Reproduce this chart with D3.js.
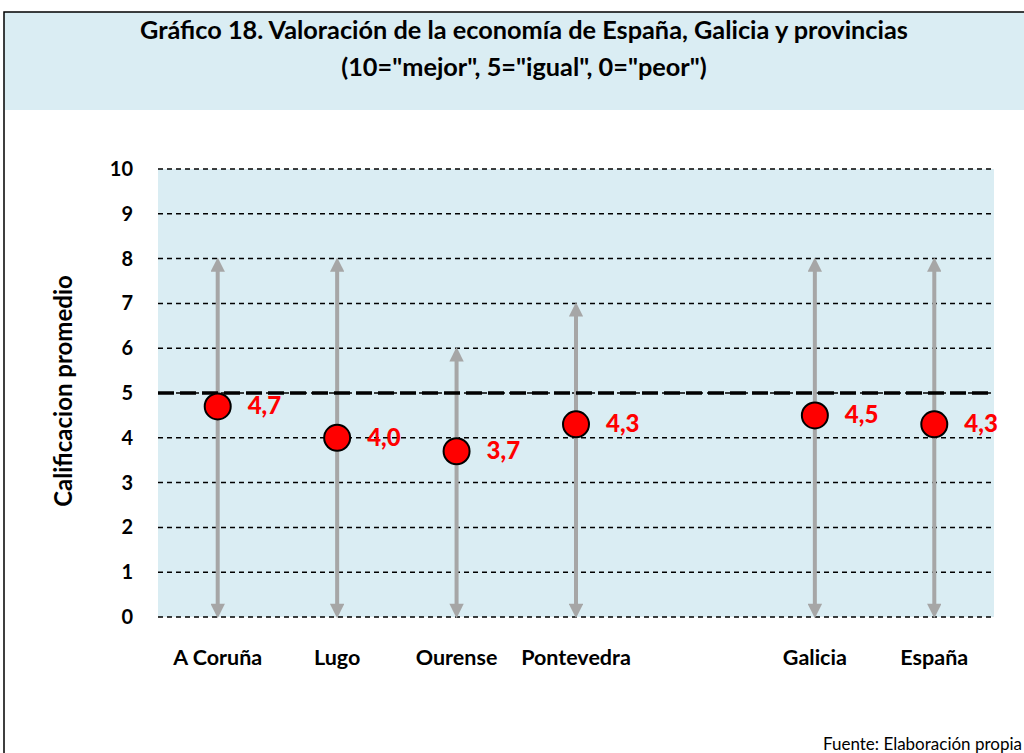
<!DOCTYPE html>
<html>
<head>
<meta charset="utf-8">
<script src="https://cdn.jsdelivr.net/npm/d3@7"></script>
<style>
  body { margin: 0; background: #fff; }
  text { font-family: Lato, "Open Sans", sans-serif; }
</style>
</head>
<body>
<div id="chart"></div>
<script>
// data
const categories = ["A Coruña", "Lugo", "Ourense", "Pontevedra", "", "Galicia", "España"];
const values = [4.7, 4.0, 3.7, 4.3, null, 4.5, 4.3];
const maxValues = [8, 8, 6, 7, null, 8, 8];
const yTicks = [0, 1, 2, 3, 4, 5, 6, 7, 8, 9, 10];
const refValue = 5;

const W = 1024, H = 753;
const margin = { top: 169, right: 30, bottom: 136, left: 158 },
    width = W - margin.left - margin.right,
    height = H - margin.top - margin.bottom;

const svg = d3.select("#chart").append("svg")
    .attr("width", W).attr("height", H);

// title band + frame
svg.append("rect").attr("x", 4).attr("y", 12).attr("width", W - 4).attr("height", 98)
    .attr("fill", "#daedf3");
svg.append("path").attr("d", `M4,${H} V12 H${W}`).attr("fill", "none")
    .attr("stroke", "#000").attr("stroke-width", 1.5);

svg.append("text").attr("x", 524).attr("y", 39)
    .attr("text-anchor", "middle").attr("font-weight", "bold").attr("font-size", 25.3)
    .text("Gráfico 18. Valoración de la economía de España, Galicia y provincias");
svg.append("text").attr("x", 524).attr("y", 76)
    .attr("text-anchor", "middle").attr("font-weight", "bold").attr("font-size", 25.3)
    .text('(10="mejor", 5="igual", 0="peor")');

const g = svg.append("g").attr("transform", `translate(${margin.left},${margin.top})`);

const x = d3.scaleBand().domain(d3.range(categories.length)).range([0, width]);
const y = d3.scaleLinear().domain([0, 10]).range([height, 0]);

// plot background
g.append("rect").attr("width", width).attr("height", height).attr("fill", "#daedf3");

// grid
g.selectAll(".grid").data(yTicks).join("line")
    .attr("x1", 0).attr("x2", width)
    .attr("y1", d => y(d)).attr("y2", d => y(d))
    .attr("stroke", "#000").attr("stroke-width", 1.5).attr("stroke-dasharray", "5,4");

// y labels
g.selectAll(".ylab").data(yTicks).join("text")
    .attr("x", -25).attr("y", d => y(d) + 7)
    .attr("text-anchor", "end").attr("font-weight", "bold").attr("font-size", 20)
    .text(d => d);

// y title
svg.append("text")
    .attr("transform", `translate(72,${margin.top + height / 2 - 2}) rotate(-90)`)
    .attr("text-anchor", "middle").attr("font-weight", "bold").attr("font-size", 24)
    .text("Calificacion promedio");

// x labels
g.selectAll(".xlab").data(categories).join("text")
    .attr("x", (d, i) => x(i) + x.bandwidth() / 2).attr("y", height + 48)
    .attr("text-anchor", "middle").attr("font-weight", "bold").attr("font-size", 21.5)
    .text(d => d);

// arrows
const defs = svg.append("defs");
defs.append("marker").attr("id", "ah")
    .attr("viewBox", "0 0 10 10").attr("refX", 5).attr("refY", 5)
    .attr("markerWidth", 4).attr("markerHeight", 3.6).attr("markerUnits", "strokeWidth")
    .attr("orient", "auto-start-reverse")
    .append("path").attr("d", "M0,0 L10,5 L0,10 Z").attr("fill", "#a6a6a6");

const idx = d3.range(categories.length).filter(i => values[i] != null);

g.selectAll(".arrow").data(idx).join("line")
    .attr("x1", i => x(i) + x.bandwidth() / 2).attr("x2", i => x(i) + x.bandwidth() / 2)
    .attr("y1", y(0) - 6).attr("y2", i => y(maxValues[i]) + 6)
    .attr("stroke", "#a6a6a6").attr("stroke-width", 4)
    .attr("marker-start", "url(#ah)").attr("marker-end", "url(#ah)");

// reference line at 5
g.append("line").attr("x1", 0).attr("x2", width)
    .attr("y1", y(refValue)).attr("y2", y(refValue))
    .attr("stroke", "#000").attr("stroke-width", 3.5).attr("stroke-dasharray", "16,6");

// points
g.selectAll(".dot").data(idx).join("circle")
    .attr("cx", i => x(i) + x.bandwidth() / 2).attr("cy", i => y(values[i]))
    .attr("r", 13).attr("fill", "#ff0000").attr("stroke", "#000").attr("stroke-width", 2);

g.selectAll(".vlab").data(idx).join("text")
    .attr("x", i => x(i) + x.bandwidth() / 2 + 30).attr("y", i => y(values[i]) + 8)
    .attr("fill", "#ff0000").attr("font-weight", 900).attr("font-size", 24)
    .text(i => d3.format(".1f")(values[i]).replace(".", ","));

// source
svg.append("text").attr("x", 1022).attr("y", 750)
    .attr("text-anchor", "end").attr("font-size", 17)
    .text("Fuente: Elaboración propia");
</script>
</body>
</html>
